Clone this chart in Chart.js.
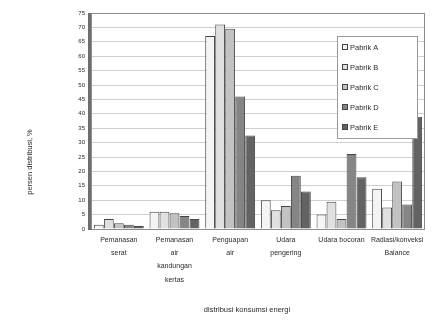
<!DOCTYPE html>
<html>
<head>
<meta charset="utf-8">
<script src="https://cdn.jsdelivr.net/npm/chart.js@4.4.1/dist/chart.umd.min.js"></script>
<style>
  html, body { margin: 0; padding: 0; background: #fff; }
  #wrap { width: 432px; height: 335px; }
</style>
</head>
<body>
<div id="wrap"><canvas id="c" width="432" height="335"></canvas></div>
<script>
// Energy consumption distribution per factory (percent)
const categories = [
  ["Pemanasan", "serat"],
  ["Pemanasan", "air", "kandungan", "kertas"],
  ["Penguapan", "air"],
  ["Udara", "pengering"],
  ["Udara bocoran"],
  ["Radiasi/konveksi", "Balance"]
];
const seriesNames = ["Pabrik A", "Pabrik B", "Pabrik C", "Pabrik D", "Pabrik E"];
const pabrikA = [1.5, 6, 67, 10, 5, 14];
const pabrikB = [3.5, 6, 71, 6.5, 9.5, 7.5];
const pabrikC = [2, 5.5, 69.5, 8, 3.5, 16.5];
const pabrikD = [1.5, 4.5, 46, 18.5, 26, 8.5];
const pabrikE = [1, 3.5, 32.5, 13, 18, 39];
const yTicks = [0, 5, 10, 15, 20, 25, 30, 35, 40, 45, 50, 55, 60, 65, 70, 75];
const yTitle = "persen distribusi, %";
const xTitle = "distribusi konsumsi energi";

const fills = ["#f4f4f4", "#e0e0e0", "#c2c2c2", "#858585", "#636363"];
const seriesValues = [pabrikA, pabrikB, pabrikC, pabrikD, pabrikE];
const FONT = "'Liberation Sans', Arial, sans-serif";
const TEXT = "#2a2a2a";

// Frame, axis titles and a floating legend inside the plot
const decor = {
  id: "decor",
  afterDatasetsDraw(chart) {
    const ctx = chart.ctx;
    const a = chart.chartArea;
    ctx.save();
    // plot frame
    ctx.strokeStyle = "#8c8c8c";
    ctx.lineWidth = 1;
    ctx.strokeRect(a.left + 0.5, a.top + 0.5, a.right - a.left - 1, a.bottom - a.top);
    // left wall
    ctx.strokeStyle = "#6e6e6e";
    ctx.lineWidth = 3;
    ctx.beginPath();
    ctx.moveTo(a.left - 1.5, a.top);
    ctx.lineTo(a.left - 1.5, a.bottom + 1);
    ctx.stroke();

    // legend box
    const lx = 337, ly = 36, lw = 80, lh = 102;
    ctx.fillStyle = "#ffffff";
    ctx.fillRect(lx, ly, lw, lh);
    ctx.strokeStyle = "#9a9a9a";
    ctx.lineWidth = 1;
    ctx.strokeRect(lx + 0.5, ly + 0.5, lw, lh);
    ctx.font = "7.5px " + FONT;
    ctx.textBaseline = "middle";
    ctx.textAlign = "left";
    chart.data.datasets.forEach((ds, i) => {
      const y = ly + 11 + i * 20;
      ctx.fillStyle = ds.backgroundColor;
      ctx.fillRect(lx + 5, y - 3, 6, 6);
      ctx.strokeStyle = "#444";
      ctx.strokeRect(lx + 5.5, y - 2.5, 5, 5);
      ctx.fillStyle = TEXT;
      ctx.fillText(ds.label, lx + 13, y + 0.5);
    });

    // axis titles
    ctx.fillStyle = TEXT;
    ctx.font = "7.5px " + FONT;
    ctx.textAlign = "center";
    ctx.textBaseline = "middle";
    ctx.fillText(xTitle, 247, 310);
    ctx.translate(30, 162);
    ctx.rotate(-Math.PI / 2);
    ctx.fillText(yTitle, 0, 0);
    ctx.restore();
  }
};

new Chart(document.getElementById("c"), {
  type: "bar",
  data: {
    labels: categories,
    datasets: seriesNames.map((name, i) => ({
      label: name,
      data: seriesValues[i],
      backgroundColor: fills[i],
      borderColor: "#454545",
      borderWidth: 1,
      categoryPercentage: 0.9,
      barPercentage: 0.98
    }))
  },
  options: {
    responsive: false,
    animation: false,
    devicePixelRatio: 1,
    layout: { padding: { top: 13, right: 7, left: 0, bottom: 0 } },
    plugins: { legend: { display: false }, tooltip: { enabled: false } },
    scales: {
      x: {
        grid: { display: false, drawTicks: false },
        border: { display: false },
        ticks: {
          color: TEXT,
          font: { family: FONT, size: 7, lineHeight: 1.86 },
          maxRotation: 0,
          minRotation: 0,
          autoSkip: false,
          padding: 5
        },
        afterFit(scale) { scale.height = 106; }
      },
      y: {
        min: 0,
        max: 75,
        afterBuildTicks(scale) { scale.ticks = yTicks.map(v => ({ value: v })); },
        grid: { color: "#cfcfcf", drawTicks: false, lineWidth: 1 },
        border: { display: false },
        ticks: {
          color: TEXT,
          font: { family: FONT, size: 6 },
          padding: 6
        },
        afterFit(scale) { scale.width = 91; }
      }
    }
  },
  plugins: [decor]
});
</script>
</body>
</html>
